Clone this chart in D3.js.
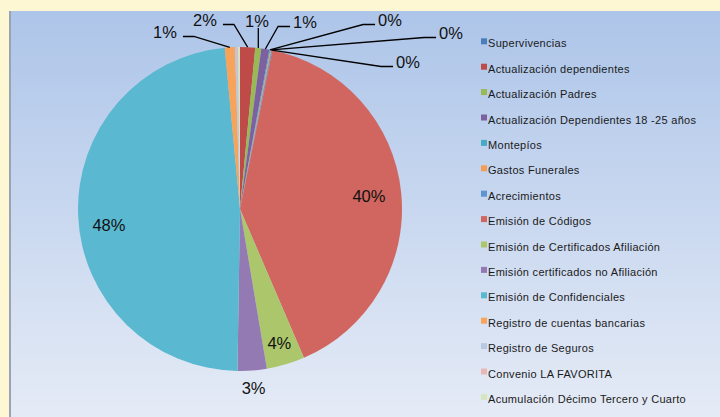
<!DOCTYPE html>
<html>
<head>
<meta charset="utf-8">
<script src="https://cdn.jsdelivr.net/npm/d3@7/dist/d3.min.js"></script>
<style>
  html, body { margin: 0; padding: 0; background: #fdf8d3; }
  svg { display: block; }
</style>
</head>
<body>
<svg id="chart" width="720" height="417"></svg>
<script>
// Requested procedures, share of total (percent)
const categories = [
  "Supervivencias",
  "Actualización dependientes",
  "Actualización Padres",
  "Actualización Dependientes 18 -25 años",
  "Montepíos",
  "Gastos Funerales",
  "Acrecimientos",
  "Emisión de Códigos",
  "Emisión de Certificados Afiliación",
  "Emisión certificados no Afiliación",
  "Emisión de Confidenciales",
  "Registro de cuentas bancarias",
  "Registro de Seguros",
  "Convenio LA FAVORITA",
  "Acumulación Décimo Tercero y Cuarto"
];
const values = [0, 1.5, 0.6, 0.8, 0.1, 0.1, 0.1, 40.3, 3.8, 2.9, 48.2, 1.0, 0.2, 0.1, 0.2];
const colors = [
  "#4a7ebb", "#be4b48", "#98b954", "#7d60a0", "#46aac5", "#f59d56", "#5c95d2",
  "#d0665f", "#abc66b", "#937ab2", "#5bb8d1", "#f7a35a", "#b8c8e0", "#e8b7b5", "#d5e5c0"
];

// Label placement: inside/near labels by radius factor; callouts by offset from centre
const innerLabels = {
  7: { k: 0.80, dy: 0 },
  8: { k: 0.86, dy: 0 },
  9: { k: 1.11, dy: 0 },
  10: { k: 0.81, dy: 11 }
};
const callouts = {
  11: { dx: -75, dy: -177, side: "left" },
  1:  { dx: -35, dy: -189, side: "left" },
  2:  { dx: 17,  dy: -188, side: "above" },
  3:  { dx: 65,  dy: -187, side: "right" },
  4:  { dx: 150, dy: -189, side: "right" },
  5:  { dx: 211, dy: -176, side: "right" },
  6:  { dx: 168, dy: -147, side: "right" }
};

const W = 720, H = 417;
const svg = d3.select("#chart");

// Plot area with vertical gradient
const defs = svg.append("defs");
const grad = defs.append("linearGradient").attr("id", "plotBg")
  .attr("x1", 0).attr("y1", 0).attr("x2", 0).attr("y2", 1);
grad.append("stop").attr("offset", "0%").attr("stop-color", "#adc5e9");
grad.append("stop").attr("offset", "100%").attr("stop-color", "#e5ebf6");

svg.append("rect").attr("x", 0).attr("y", 0).attr("width", W).attr("height", H).attr("fill", "#fdf8d3");
svg.append("rect").attr("x", 10).attr("y", 11).attr("width", W - 10).attr("height", H - 11).attr("fill", "url(#plotBg)");
svg.append("line").attr("x1", 10).attr("x2", 10).attr("y1", 11).attr("y2", H)
  .attr("stroke", "#9aa3b3").attr("stroke-width", 2);

const cx = 240, cy = 209, R = 162;
const total = d3.sum(values);
const pct = v => Math.round(v / total * 100) + "%";

const pie = d3.pie().sort(null).value(d => d.value);
const arcs = pie(categories.map((c, i) => ({ name: c, value: values[i], i })));
const arc = d3.arc().innerRadius(0).outerRadius(R);

const g = svg.append("g").attr("transform", `translate(${cx},${cy})`);
g.selectAll("path.slice").data(arcs).join("path")
  .attr("class", "slice")
  .attr("d", arc)
  .attr("fill", d => colors[d.data.i]);

const font = "'Liberation Sans', Arial, sans-serif";
const labelSize = 16.5;

// Labels placed along the slice bisector
Object.entries(innerLabels).forEach(([idx, p]) => {
  const a = arcs[+idx];
  const c = d3.arc().innerRadius(R * p.k).outerRadius(R * p.k).centroid(a);
  g.append("text")
    .attr("x", c[0]).attr("y", c[1] + p.dy)
    .attr("text-anchor", "middle").attr("dominant-baseline", "central")
    .attr("font-family", font).attr("font-size", labelSize).attr("fill", "#111")
    .text(pct(a.value));
});

// Callout labels with leader lines
const edgeArc = d3.arc().innerRadius(R).outerRadius(R);
Object.entries(callouts).forEach(([idx, p]) => {
  const a = arcs[+idx];
  const tip = edgeArc.centroid(a);
  const t = g.append("text")
    .attr("x", p.dx).attr("y", p.dy)
    .attr("text-anchor", "middle").attr("dominant-baseline", "central")
    .attr("font-family", font).attr("font-size", labelSize).attr("fill", "#111")
    .text(pct(a.value));
  const w = t.node().getComputedTextLength();
  const ly = p.dy + 4.5;
  let pts;
  if (p.side === "left") {
    const x0 = p.dx + w / 2 + 6;
    pts = [[x0, ly], [x0 + 11, ly], tip];
  } else if (p.side === "right") {
    const x0 = p.dx - w / 2 - 3;
    pts = [[x0, ly], [x0 - 12, ly], tip];
  } else {
    pts = [[tip[0], p.dy + 7], tip];
  }
  g.append("path")
    .attr("d", d3.line()(pts))
    .attr("fill", "none").attr("stroke", "#000").attr("stroke-width", 1.3);
});

// Legend
const lg = svg.append("g");
categories.forEach((c, i) => {
  const y = 43.3 + i * 25.4;
  lg.append("rect").attr("x", 481).attr("y", y - 5).attr("width", 6).attr("height", 6)
    .attr("fill", colors[i]);
  lg.append("text").attr("x", 488).attr("y", y)
    .attr("dominant-baseline", "central")
    .attr("font-family", font).attr("font-size", 11).attr("letter-spacing", 0.3)
    .attr("fill", "#1a1a1a")
    .text(c);
});
</script>
</body>
</html>
